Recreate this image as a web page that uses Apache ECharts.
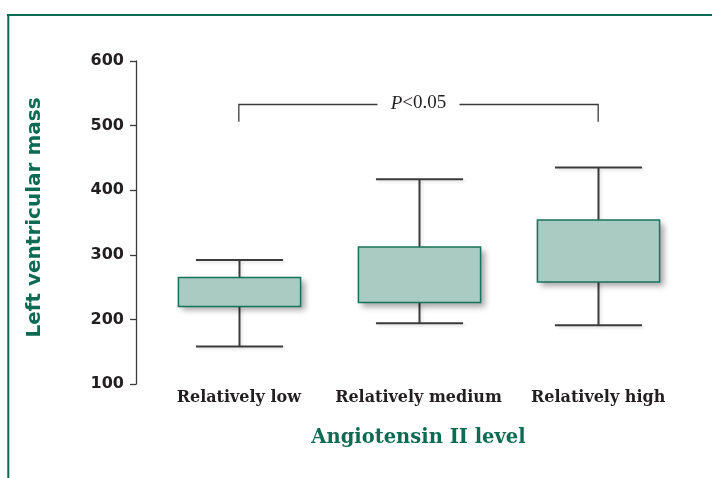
<!DOCTYPE html>
<html><head><meta charset="utf-8">
<script src="https://cdn.jsdelivr.net/npm/echarts@6/dist/echarts.min.js"></script>
<style>html,body{margin:0;padding:0;background:#fff}#c{width:712px;height:478px}</style>
</head><body><div id="c"></div>
<script>
const categories = ['Relatively low', 'Relatively medium', 'Relatively high'];
const whiskerLow = [158, 194, 191];
const boxLow = [220, 226, 258];
const boxHigh = [265, 312, 354];
const whiskerHigh = [292, 417, 435];
const yTicks = [100, 200, 300, 400, 500, 600];
const bracketSpan = [0, 2];
const bracketLevels = [506, 533];
const bracketLabel = 'P<0.05';

const green = '#0d6b53';
const dark = '#231f20';

function renderBox(params, api) {
  const i = api.value(0);
  const pMin = api.coord([i, api.value(1)]);
  const pQ1 = api.coord([i, api.value(2)]);
  const pQ3 = api.coord([i, api.value(3)]);
  const pMax = api.coord([i, api.value(4)]);
  const band = api.size([1, 0])[0];
  const bw = band * 0.68, cw = band * 0.485;
  const x = Math.round(pMin[0]) + 0.5;
  const ls = {stroke: '#3b3b3b', lineWidth: 2, shadowBlur: 3, shadowOffsetX: 2, shadowOffsetY: 2, shadowColor: 'rgba(0,0,0,0.12)'};
  const rectShape = {x: x - bw / 2, y: pQ3[1], width: bw, height: pQ1[1] - pQ3[1]};
  return {type: 'group', children: [
    {type: 'line', shape: {x1: x, y1: pMax[1], x2: x, y2: pQ3[1]}, style: ls},
    {type: 'line', shape: {x1: x, y1: pQ1[1], x2: x, y2: pMin[1]}, style: ls},
    {type: 'line', shape: {x1: x - cw / 2, y1: pMax[1], x2: x + cw / 2, y2: pMax[1]}, style: ls},
    {type: 'line', shape: {x1: x - cw / 2, y1: pMin[1], x2: x + cw / 2, y2: pMin[1]}, style: ls},
    {type: 'rect', shape: rectShape,
      style: {fill: '#a9cbc2', shadowBlur: 6, shadowOffsetX: 4, shadowOffsetY: 4, shadowColor: 'rgba(0,0,0,0.35)'}},
    {type: 'rect', shape: rectShape,
      style: {fill: '#a9cbc2', stroke: '#17735a', lineWidth: 1.5}}
  ]};
}

function renderBracket(params, api) {
  const a = api.coord([api.value(0), api.value(3)]);
  const b = api.coord([api.value(1), api.value(3)]);
  const foot = api.coord([api.value(0), api.value(2)])[1];
  const y = Math.round(a[1]) + 0.5;
  const cx = (a[0] + b[0]) / 2;
  const gap = 41;
  const ls = {stroke: '#3b3b3b', lineWidth: 1.3};
  return {type: 'group', children: [
    {type: 'polyline', shape: {points: [[a[0], foot], [a[0], y], [cx - gap, y]]}, style: Object.assign({fill: null}, ls)},
    {type: 'polyline', shape: {points: [[cx + gap, y], [b[0], y], [b[0], foot]]}, style: Object.assign({fill: null}, ls)},
    {type: 'text', style: {text: '{i|P}{r|' + bracketLabel.slice(1) + '}', x: cx, y: y - 1, align: 'center', verticalAlign: 'middle',
      rich: {i: {fontStyle: 'italic', fontFamily: 'Liberation Serif', fontSize: 19, fill: dark},
             r: {fontFamily: 'Liberation Serif', fontSize: 19, fill: dark}}}}
  ]};
}

const chart = echarts.init(document.getElementById('c'), null, {renderer: 'canvas'});
chart.setOption({
  backgroundColor: '#ffffff',
  animation: false,
  grid: {left: 149, right: 24, top: 61, bottom: 94},
  graphic: [
    {type: 'line', shape: {x1: 7, y1: 15, x2: 712, y2: 15}, style: {stroke: green, lineWidth: 2}},
    {type: 'line', shape: {x1: 8.3, y1: 14, x2: 8.3, y2: 478}, style: {stroke: green, lineWidth: 2}}
  ],
  xAxis: {
    type: 'category', data: categories,
    axisLine: {show: false}, axisTick: {show: false},
    axisLabel: {interval: 0, margin: 6, color: dark, fontFamily: 'DejaVu Serif', fontWeight: 'bold', fontSize: 16},
    name: 'Angiotensin II level', nameLocation: 'middle', nameGap: 44,
    nameTextStyle: {color: green, fontFamily: 'DejaVu Serif', fontWeight: 'bold', fontSize: 19.5}
  },
  yAxis: {
    type: 'value', min: yTicks[0], max: yTicks[yTicks.length - 1], interval: 100, offset: 13,
    splitLine: {show: false},
    axisLine: {show: true, lineStyle: {color: '#3b3b3b', width: 1.3}},
    axisTick: {show: true, length: 6, lineStyle: {color: '#3b3b3b', width: 1.3}},
    axisLabel: {margin: 12, color: dark, fontFamily: 'DejaVu Sans', fontWeight: 'bold', fontSize: 16},
    name: 'Left ventricular mass', nameLocation: 'middle', nameGap: 91,
    nameTextStyle: {color: green, fontFamily: 'DejaVu Sans', fontWeight: 'bold', fontSize: 20, padding: [0, 0, 0, 10]}
  },
  series: [
    {type: 'custom', renderItem: renderBox, encode: {x: 0, y: [1, 2, 3, 4]},
      data: categories.map((c, i) => [i, whiskerLow[i], boxLow[i], boxHigh[i], whiskerHigh[i]])},
    {type: 'custom', renderItem: renderBracket, encode: {x: [0, 1], y: [2, 3]},
      data: [[bracketSpan[0], bracketSpan[1], bracketLevels[0], bracketLevels[1]]]}
  ]
});
</script></body></html>
